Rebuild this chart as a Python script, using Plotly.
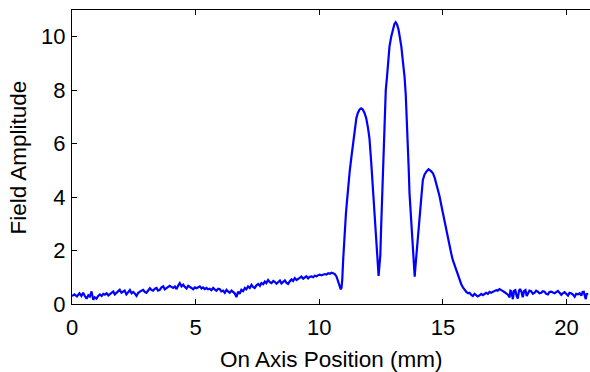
import plotly.graph_objects as go

position_mm = [
    0.0, 0.1, 0.2, 0.3, 0.38, 0.45, 0.52, 0.59, 0.66, 0.72, 0.79, 0.86, 0.92, 0.99,
    1.06, 1.13, 1.2, 1.27, 1.33, 1.4, 1.47, 1.53, 1.6, 1.67, 1.73, 1.8, 1.87, 1.93,
    2.0, 2.07, 2.13, 2.2, 2.27, 2.34, 2.41, 2.48, 2.55, 2.61, 2.68, 2.74, 2.81, 2.88,
    2.94, 3.01, 3.08, 3.15, 3.21, 3.28, 3.35, 3.42, 3.48, 3.55, 3.62, 3.69, 3.75, 3.82,
    3.88, 3.95, 4.02, 4.09, 4.16, 4.23, 4.3, 4.36, 4.43, 4.5, 4.56, 4.63, 4.7, 4.77,
    4.83, 4.9, 4.97, 5.04, 5.1, 5.17, 5.24, 5.3, 5.37, 5.44, 5.5, 5.57, 5.64, 5.71,
    5.77, 5.84, 5.91, 5.98, 6.04, 6.11, 6.18, 6.25, 6.31, 6.38, 6.45, 6.52, 6.58, 6.65,
    6.72, 6.78, 6.85, 6.92, 6.99, 7.05, 7.12, 7.19, 7.26, 7.32, 7.39, 7.46, 7.53, 7.6,
    7.66, 7.73, 7.8, 7.86, 7.93, 8.0, 8.07, 8.14, 8.2, 8.27, 8.34, 8.41, 8.47, 8.54,
    8.61, 8.67, 8.74, 8.81, 8.88, 8.94, 9.01, 9.08, 9.15, 9.21, 9.28, 9.35, 9.42, 9.48,
    9.55, 9.62, 9.69, 9.75, 9.82, 9.89, 9.96, 10.02, 10.09, 10.16, 10.23, 10.29, 10.36,
    10.43, 10.5, 10.56, 10.63, 10.7, 10.77, 10.83, 10.87, 10.9, 10.93, 10.97, 11.03,
    11.08, 11.12, 11.17, 11.23, 11.3, 11.36, 11.43, 11.5, 11.56, 11.63, 11.7, 11.76,
    11.83, 11.9, 11.97, 12.03, 12.1, 12.17, 12.24, 12.31, 12.36, 12.4, 12.44, 12.47,
    12.5, 12.54, 12.57, 12.64, 12.69, 12.74, 12.79, 12.84, 12.91, 12.98, 13.04, 13.09,
    13.15, 13.21, 13.27, 13.32, 13.38, 13.45, 13.5, 13.54, 13.58, 13.62, 13.65, 13.7,
    13.75, 13.8, 13.83, 13.86, 13.89, 13.92, 13.99, 14.06, 14.13, 14.19, 14.26, 14.33,
    14.42, 14.51, 14.6, 14.67, 14.73, 14.8, 14.87, 14.93, 15.0, 15.07, 15.14, 15.2,
    15.27, 15.34, 15.4, 15.47, 15.54, 15.61, 15.68, 15.74, 15.81, 15.88, 15.95, 16.02,
    16.08, 16.15, 16.21, 16.28, 16.35, 16.41, 16.48, 16.55, 16.62, 16.68, 16.75, 16.82,
    16.89, 16.95, 17.02, 17.09, 17.16, 17.22, 17.29, 17.36, 17.43, 17.5, 17.56, 17.63,
    17.7, 17.73, 17.77, 17.8, 17.83, 17.88, 17.93, 17.98, 18.03, 18.08, 18.12, 18.18,
    18.23, 18.28, 18.34, 18.39, 18.44, 18.5, 18.57, 18.64, 18.71, 18.77, 18.84, 18.91,
    18.98, 19.04, 19.11, 19.18, 19.25, 19.31, 19.38, 19.45, 19.52, 19.58, 19.65, 19.72,
    19.79, 19.85, 19.92, 19.99, 20.06, 20.12, 20.19, 20.26, 20.33, 20.39, 20.46, 20.53,
    20.6, 20.65, 20.7, 20.74, 20.78, 20.82, 20.86,
]

field_amplitude = [
    0.3, 0.36, 0.28, 0.4, 0.3, 0.42, 0.3, 0.2, 0.33, 0.28, 0.47, 0.16, 0.25, 0.2,
    0.3, 0.36, 0.3, 0.38, 0.35, 0.4, 0.32, 0.36, 0.43, 0.47, 0.36, 0.42, 0.45, 0.53,
    0.42, 0.47, 0.5, 0.36, 0.45, 0.52, 0.4, 0.45, 0.38, 0.3, 0.42, 0.47, 0.5, 0.53,
    0.45, 0.42, 0.5, 0.59, 0.53, 0.5, 0.57, 0.6, 0.5, 0.53, 0.62, 0.66, 0.55, 0.6,
    0.63, 0.68, 0.64, 0.6, 0.66, 0.56, 0.7, 0.78, 0.66, 0.72, 0.64, 0.58, 0.68, 0.65,
    0.6, 0.55, 0.62, 0.59, 0.63, 0.66, 0.58, 0.62, 0.56, 0.6, 0.55, 0.57, 0.52, 0.6,
    0.55, 0.5, 0.57, 0.55, 0.47, 0.5, 0.42, 0.53, 0.47, 0.42, 0.5, 0.46, 0.4, 0.26,
    0.46, 0.38, 0.53, 0.48, 0.6, 0.55, 0.66, 0.6, 0.72, 0.64, 0.6, 0.7, 0.75, 0.68,
    0.78, 0.74, 0.84, 0.78, 0.9, 0.82, 0.78, 0.86, 0.83, 0.76, 0.82, 0.88, 0.77, 0.84,
    0.88, 0.8, 0.75, 0.85, 0.92, 0.86, 0.97, 0.9, 0.93, 0.98, 1.03, 0.95, 1.0, 1.04,
    0.96, 1.02, 1.03, 1.0, 1.06, 1.04, 1.08, 1.1, 1.07, 1.1, 1.12, 1.1, 1.15,
    1.13, 1.17, 1.15, 1.12, 1.02, 0.83, 0.64, 0.55, 0.6, 0.9, 1.7, 2.8,
    3.4, 3.83, 4.4, 4.95, 5.5, 5.95, 6.5, 6.95, 7.15, 7.28, 7.32, 7.28,
    7.15, 6.95, 6.6, 6.2, 5.32, 4.34, 3.08, 1.96, 1.4, 1.05, 1.5, 1.83,
    2.8, 4.0, 4.76, 7.26, 8.0, 8.5, 9.1, 9.63, 10.0, 10.31, 10.48, 10.54,
    10.45, 10.25, 9.95, 9.63, 9.1, 8.5, 7.8, 7.0, 5.88, 5.0, 4.15, 3.3,
    2.52, 1.7, 1.3, 1.02, 1.4, 1.77, 2.5, 3.27, 4.01, 4.64, 4.85, 4.95,
    5.04, 4.98, 4.89, 4.72, 4.52, 4.28, 4.01, 3.72, 3.39, 3.08, 2.77, 2.45,
    2.14, 1.88, 1.65, 1.45, 1.27, 1.08, 0.88, 0.75, 0.62, 0.52, 0.45, 0.4,
    0.42, 0.34, 0.3, 0.38, 0.34, 0.28, 0.32, 0.38, 0.33, 0.38, 0.42, 0.38,
    0.45, 0.42, 0.46, 0.5, 0.52, 0.5, 0.56, 0.52, 0.49, 0.44, 0.4, 0.35,
    0.25, 0.5, 0.48, 0.2, 0.18, 0.5, 0.52, 0.3, 0.2, 0.5, 0.56, 0.45,
    0.25, 0.48, 0.52, 0.3, 0.4, 0.5, 0.48, 0.38, 0.42, 0.5, 0.46, 0.4,
    0.42, 0.48, 0.46, 0.38, 0.36, 0.45, 0.46, 0.42, 0.4, 0.44, 0.49, 0.42,
    0.34, 0.4, 0.44, 0.38, 0.31, 0.42, 0.4, 0.35, 0.27, 0.38, 0.36, 0.4,
    0.31, 0.45, 0.46, 0.3, 0.18, 0.4, 0.34,
]

x_ticks = [0, 5, 10, 15, 20]
y_ticks = [0, 2, 4, 6, 8, 10]
x_title = "On Axis Position (mm)"
y_title = "Field Amplitude"

fig = go.Figure()
fig.add_trace(go.Scatter(
    x=position_mm, y=field_amplitude, mode="lines",
    line=dict(color="#0000FF", width=2.2), showlegend=False,
))

family = "Liberation Sans, Arial, Helvetica, sans-serif"
tick_font = dict(family=family, size=22, color="black")
title_font = dict(family=family, size=22.5, color="black")

fig.update_layout(
    width=590, height=372,
    margin=dict(l=72, r=0, t=10, b=68, autoexpand=False),
    paper_bgcolor="white", plot_bgcolor="white",
    font=tick_font,
    annotations=[
        dict(text=x_title, xref="paper", yref="paper", x=0.5, y=-0.19,
             xanchor="center", yanchor="middle", showarrow=False, font=title_font),
        dict(text=y_title, xref="paper", yref="paper", x=-0.1033, y=0.5,
             xanchor="center", yanchor="middle", textangle=-90, showarrow=False,
             font=title_font),
    ],
)
fig.update_xaxes(
    range=[0, 20.95], tickvals=x_ticks, ticks="inside", ticklen=5,
    tickcolor="black", showline=True, linecolor="black", linewidth=1,
    mirror="ticks", showgrid=False, zeroline=False, automargin=False,
    tickfont=tick_font, ticklabelstandoff=4,
)
fig.update_yaxes(
    range=[0, 11], tickvals=y_ticks, ticks="inside", ticklen=5,
    tickcolor="black", showline=True, linecolor="black", linewidth=1,
    mirror=False, showgrid=False, zeroline=False, automargin=False,
    tickfont=tick_font, ticklabelstandoff=1,
)
fig.write_html(
    "out.html",
    config={"displayModeBar": False, "staticPlot": True},
    post_script="document.body.style.margin='0';document.body.style.padding='0';"
                "document.body.style.overflow='hidden';",
)
